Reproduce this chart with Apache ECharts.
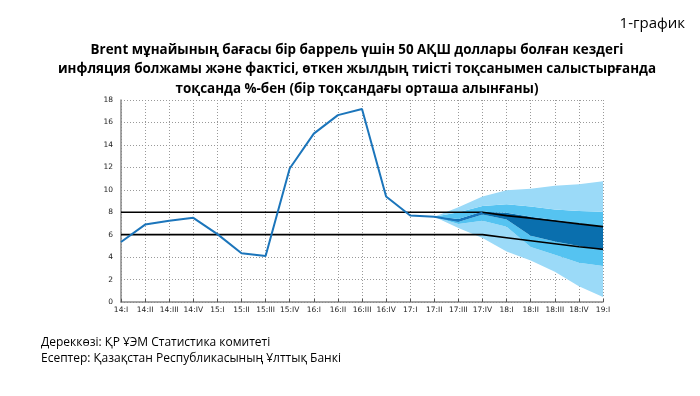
<!DOCTYPE html>
<html>
<head>
<meta charset="utf-8">
<script src="https://cdn.jsdelivr.net/npm/echarts@6/dist/echarts.min.js"></script>
<style>
  html, body { margin: 0; padding: 0; background: #fff; }
  #chart { width: 700px; height: 396px; }
</style>
</head>
<body>
<div id="chart"></div>
<script>
// кварталдар
var categories = ['14:I','14:II','14:III','14:IV','15:I','15:II','15:III','15:IV','16:I','16:II','16:III','16:IV',
                  '17:I','17:II','17:III','17:IV','18:I','18:II','18:III','18:IV','19:I'];
var yTicks = [0, 2, 4, 6, 8, 10, 12, 14, 16, 18];

// факт
var actual = [5.35, 6.9, 7.25, 7.5, 6.05, 4.35, 4.1, 11.9, 15.0, 16.65, 17.2, 9.4, 7.7, 7.6, 7.25, 7.95];

// таргет дәлізі
var targetHi = [8, 8, 8, 8, 8, 8, 8, 8, 8, 8, 8, 8, 8, 8, 8, 8, 7.7, 7.47, 7.22, 6.96, 6.72];
var targetLo = [6, 6, 6, 6, 6, 6, 6, 6, 6, 6, 6, 6, 6, 6, 6, 6, 5.73, 5.46, 5.19, 4.92, 4.7];

// болжам желдеткіші (17:II .. 19:I)
var fanStart = 13;
var lightHi = [7.6, 8.45, 9.4, 9.95, 10.1, 10.35, 10.5, 10.75];
var medHi   = [7.6, 8.0, 8.55, 8.7, 8.5, 8.25, 8.1, 8.05];
var darkHi  = [7.6, 7.4, 8.05, 7.95, 7.6, 7.3, 7.0, 6.75];
var darkLo  = [7.6, 7.15, 7.8, 7.35, 5.9, 5.4, 5.0, 4.6];
var medLo   = [7.6, 6.95, 7.25, 6.7, 4.9, 4.2, 3.5, 3.2];
var lightLo = [7.6, 6.6, 5.7, 4.5, 3.7, 2.7, 1.4, 0.45];

var chart = echarts.init(document.getElementById('chart'));

function pad(arr){ // fan массивін толық ұзындыққа келтіру
    var out = [];
    for (var i = 0; i < categories.length; i++) {
        out.push(i < fanStart ? '-' : arr[i - fanStart]);
    }
    return out;
}
function diff(a, b){
    return a.map(function(v, i){ return +(v - b[i]).toFixed(3); });
}

var bands = [
    { data: lightLo, color: 'transparent' },
    { data: diff(medLo, lightLo), color: '#9bdaf8' },
    { data: diff(darkLo, medLo), color: '#55c3f1' },
    { data: diff(darkHi, darkLo), color: '#0a6fae' },
    { data: diff(medHi, darkHi), color: '#55c3f1' },
    { data: diff(lightHi, medHi), color: '#9bdaf8' }
];

var series = bands.map(function(b, i){
    return {
        type: 'line',
        stack: 'fan',
        data: pad(b.data),
        symbol: 'none',
        silent: true,
        lineStyle: { width: 0, opacity: 0 },
        areaStyle: i === 0 ? { opacity: 0 } : { color: b.color, opacity: 1 },
        z: 1
    };
});

series.push({
    type: 'line', data: targetHi, symbol: 'none',
    lineStyle: { color: '#000', width: 1.6 }, z: 3
});
series.push({
    type: 'line', data: targetLo, symbol: 'none',
    lineStyle: { color: '#000', width: 1.6 }, z: 3
});
series.push({
    type: 'line', data: actual, symbol: 'none',
    lineStyle: { color: '#1b75bb', width: 2 }, z: 4
});

var option = {
    animation: false,
    backgroundColor: '#fff',
    title: [
        {
            text: '1-график',
            right: 10, top: 11,
            textStyle: { fontFamily: 'Open Sans', fontSize: 15, fontWeight: 'normal', color: '#000' }
        },
        {
            text: 'Brent мұнайының бағасы бір баррель үшін 50 АҚШ доллары болған кездегі\nинфляция болжамы және фактісі, өткен жылдың тиісті тоқсанымен салыстырғанда\nтоқсанда %-бен (бір тоқсандағы орташа алынғаны)',
            left: 352, top: 35, textAlign: 'center',
            textStyle: { fontFamily: 'Open Sans', fontSize: 13.4, fontWeight: 'bold', color: '#000', lineHeight: 19.5 }
        },
        {
            text: 'Дереккөзі: ҚР ҰЭМ Статистика комитеті\nЕсептер: Қазақстан Республикасының Ұлттық Банкі',
            left: 36, top: 330,
            textStyle: { fontFamily: 'Open Sans', fontSize: 12, fontWeight: 'normal', color: '#000', lineHeight: 15.5 }
        }
    ],
    grid: { left: 121, right: 97, top: 100, bottom: 94 },
    xAxis: {
        type: 'category',
        data: categories,
        boundaryGap: false,
        axisLine: { lineStyle: { color: '#888', width: 1.5 } },
        axisTick: { inside: true, length: 3, lineStyle: { color: '#555' } },
        axisLabel: { fontSize: 7.5, color: '#222', margin: 4, interval: 0, fontFamily: 'DejaVu Sans' },
        splitLine: { show: true, lineStyle: { color: '#999', type: [1, 2], width: 1 } }
    },
    yAxis: {
        type: 'value',
        min: yTicks[0], max: yTicks[yTicks.length - 1], interval: 2,
        axisLine: { show: true, lineStyle: { color: '#888', width: 1.5 } },
        axisTick: { show: false },
        axisLabel: { fontSize: 7.5, color: '#222', margin: 8, fontFamily: 'DejaVu Sans' },
        splitLine: { show: true, lineStyle: { color: '#999', type: [1, 2], width: 1 } }
    },
    series: series
};
chart.setOption(option);
</script>
</body>
</html>
